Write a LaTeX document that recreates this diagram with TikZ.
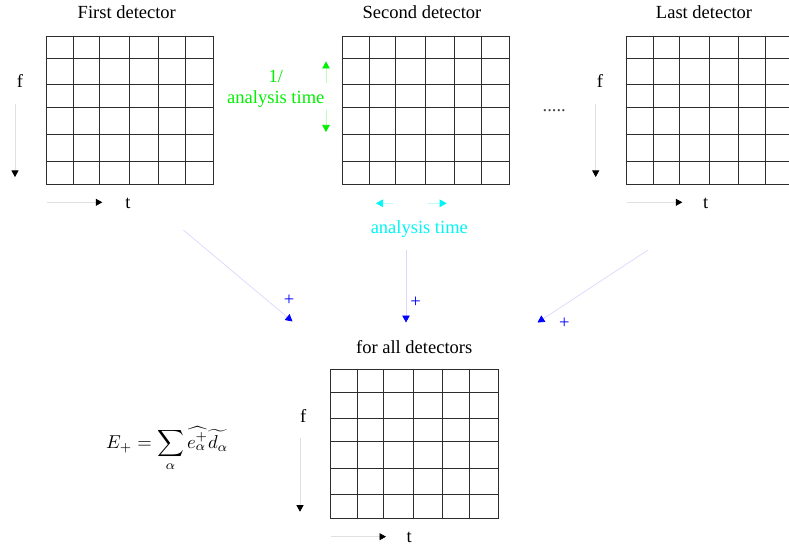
\documentclass[tikz,border=0pt]{standalone}
\usepackage{fontspec}
\setmainfont{Liberation Serif}
\usetikzlibrary{arrows.meta}
\definecolor{gridc}{RGB}{45,45,45}
\definecolor{lgreen}{RGB}{0,240,0}
\definecolor{cyanc}{RGB}{0,245,245}
\definecolor{bluec}{RGB}{0,0,255}
\newcommand\detgrid[3]{%
  \node[gridbox, anchor=north west] (#1) at (#2,#3) {};
  \foreach \c in {27.6,53.6,83.3,112.3,139.3}
    \draw[gridline] ({#2+\c},#3) -- ({#2+\c},{#3+148.6});
  \foreach \r in {22.6,48.6,72,98.6,125.3}
    \draw[gridline] (#2,{#3+\r}) -- ({#2+167.6},{#3+\r});
}
\begin{document}
\begin{tikzpicture}[x=1pt,y=-1pt,
  lbl/.style={font=\fontsize{18.5}{22}\selectfont, inner sep=0pt},
  gridline/.style={draw=gridc, line width=0.8pt},
  gridbox/.style={draw=gridc, line width=0.8pt, minimum width=167.6pt, minimum height=148.6pt, inner sep=0pt},
  axis/.style={draw=black!12, line width=0.7pt, -{Triangle[length=6.5pt,width=7pt,color=black,fill=black]}},
  garrow/.style={draw=lgreen!25, line width=0.7pt, -{Triangle[length=7pt,width=7.5pt,color=lgreen,fill=lgreen]}},
  carrow/.style={draw=cyanc!25, line width=0.7pt, -{Triangle[length=7pt,width=7.5pt,color=cyanc,fill=cyanc]}},
  barrow/.style={draw=bluec!15, line width=0.7pt, -{Triangle[length=7pt,width=7.5pt,color=bluec,fill=bluec]}}]
\useasboundingbox (0,0) rectangle (789,548);
\fill[white] (0,0) rectangle (789,548);

% grids
\detgrid{gA}{45.7}{35.7}
\detgrid{gB}{341.7}{35.7}
\detgrid{gC}{625.7}{35.7}
\detgrid{gD}{330}{369.3}

% titles
\node[lbl, anchor=base] (tA) at (126.8,19) {First detector};
\node[lbl, anchor=base] (tB) at (422,19) {Second detector};
\node[lbl, anchor=base] (tC) at (704,19) {Last detector};
\node[lbl, anchor=base] (tD) at (414.2,353) {for all detectors};
\node[lbl, anchor=base, text=black!75] (dots) at (554.3,112) {.....};

% f axes
\node[lbl] (fA) at (20,81) {f};
\node[lbl] (fC) at (600,81) {f};
\node[lbl] (fD) at (303.3,416) {f};
\coordinate (fA1) at (15,104);   \coordinate (fA2) at (15,177);
\coordinate (fC1) at (595.7,104); \coordinate (fC2) at (595.7,177);
\coordinate (fD1) at (300,437.7); \coordinate (fD2) at (300,511.7);
\draw[axis] (fA1) -- (fA2);
\draw[axis] (fC1) -- (fC2);
\draw[axis] (fD1) -- (fD2);

% t axes
\node[lbl] (tlA) at (128,203) {t};
\node[lbl] (tlC) at (705.7,203) {t};
\node[lbl] (tlD) at (409.3,537.5) {t};
\coordinate (tA1) at (46.7,202.3);  \coordinate (tA2) at (102.3,202.3);
\coordinate (tC1) at (626.7,202.3); \coordinate (tC2) at (682.3,202.3);
\coordinate (tD1) at (331,536.7);   \coordinate (tD2) at (386,536.7);
\draw[axis] (tA1) -- (tA2);
\draw[axis] (tC1) -- (tC2);
\draw[axis] (tD1) -- (tD2);

% green 1/analysis time
\node[lbl, anchor=base, text=lgreen] (g1) at (275.8,83) {1/};
\node[lbl, anchor=base, text=lgreen] (g2) at (275.8,103.5) {analysis time};
\coordinate (gu1) at (326,83);  \coordinate (gu2) at (326,61.5);
\coordinate (gd1) at (326,110); \coordinate (gd2) at (326,132);
\draw[garrow] (gu1) -- (gu2);
\draw[garrow] (gd1) -- (gd2);

% cyan analysis time
\node[lbl, anchor=base, text=cyanc] (cy) at (419.3,233.5) {analysis time};
\coordinate (cl1) at (393,203.3); \coordinate (cl2) at (376,203.3);
\coordinate (cr1) at (428,203.3); \coordinate (cr2) at (446.7,203.3);
\draw[carrow] (cl1) -- (cl2);
\draw[carrow] (cr1) -- (cr2);

% blue sum arrows
\coordinate (bl1) at (183.3,230); \coordinate (bl2) at (292.5,321.5);
\coordinate (bm1) at (406,250);   \coordinate (bm2) at (406,322.5);
\coordinate (br1) at (648,250);   \coordinate (br2) at (537.5,322.5);
\draw[barrow] (bl1) -- (bl2);
\draw[barrow] (bm1) -- (bm2);
\draw[barrow] (br1) -- (br2);
\node[lbl, text=bluec] (pl) at (289,300.7) {+};
\node[lbl, text=bluec] (pm) at (415.7,302.7) {+};
\node[lbl, text=bluec] (pr) at (564.3,323.3) {+};

% formula
\node[anchor=base west, inner sep=0pt] (eq) at (106,448.3)
  {\scalebox{1.86}{$\displaystyle E_+ = \sum_{\alpha} \widehat{e_\alpha^+}\widetilde{d_\alpha}$}};
\end{tikzpicture}
\end{document}
